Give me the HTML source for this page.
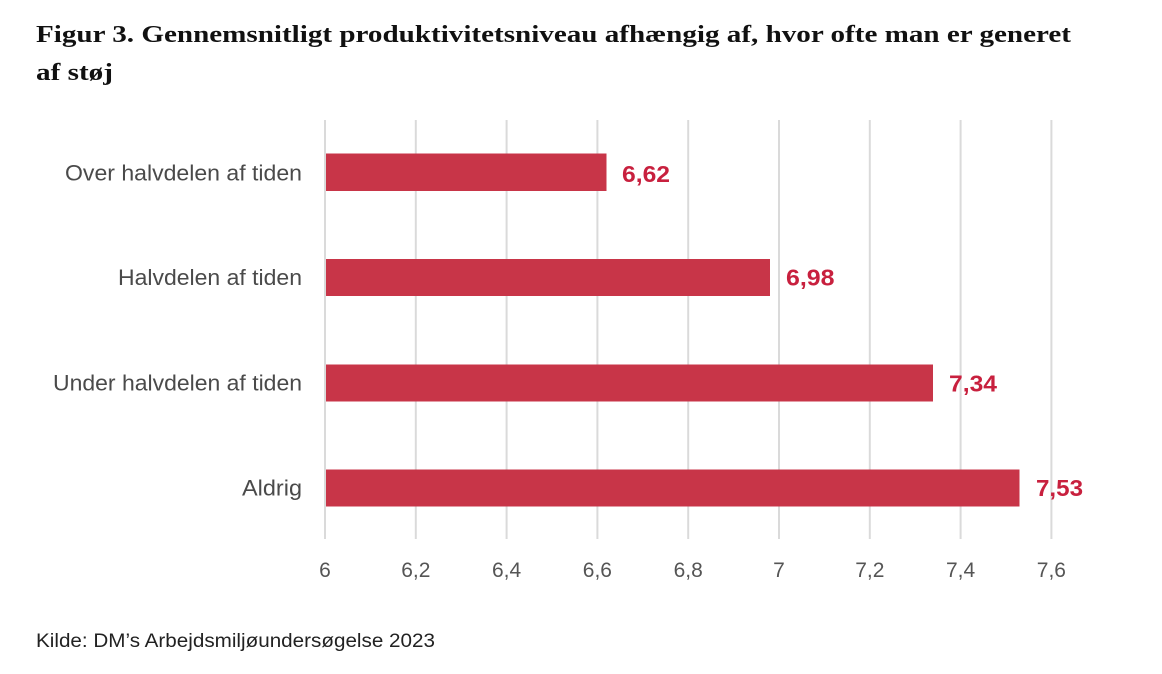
<!DOCTYPE html>
<html>
<head>
<meta charset="utf-8">
<style>
  html, body { margin: 0; padding: 0; background: #ffffff; }
  svg { display: block; }
</style>
</head>
<body>
<svg width="1162" height="674" viewBox="0 0 1162 674" xmlns="http://www.w3.org/2000/svg">
  <rect x="0" y="0" width="1162" height="674" fill="#ffffff"/>

  <!-- Title -->
  <text x="36" y="42" font-family="Liberation Serif, serif" font-weight="bold" font-size="24" fill="#111111" textLength="1035" lengthAdjust="spacingAndGlyphs">Figur 3. Gennemsnitligt produktivitetsniveau afhængig af, hvor ofte man er generet</text>
  <text x="36" y="80" font-family="Liberation Serif, serif" font-weight="bold" font-size="24" fill="#111111" textLength="77" lengthAdjust="spacingAndGlyphs">af støj</text>

  <!-- Gridlines -->
  <g stroke="#dadada" stroke-width="2">
    <line x1="325" y1="120" x2="325" y2="539"/>
    <line x1="415.8" y1="120" x2="415.8" y2="539"/>
    <line x1="506.6" y1="120" x2="506.6" y2="539"/>
    <line x1="597.4" y1="120" x2="597.4" y2="539"/>
    <line x1="688.2" y1="120" x2="688.2" y2="539"/>
    <line x1="779" y1="120" x2="779" y2="539"/>
    <line x1="869.8" y1="120" x2="869.8" y2="539"/>
    <line x1="960.6" y1="120" x2="960.6" y2="539"/>
    <line x1="1051.4" y1="120" x2="1051.4" y2="539"/>
  </g>

  <!-- Bars -->
  <g fill="#c83548">
    <rect x="326" y="153.5" width="280.5" height="37.5"/>
    <rect x="326" y="259" width="444" height="37"/>
    <rect x="326" y="364.5" width="607" height="37"/>
    <rect x="326" y="469.5" width="693.5" height="37"/>
  </g>

  <!-- Value labels -->
  <g font-family="Liberation Sans, sans-serif" font-weight="bold" font-size="23" fill="#c8203e">
    <text x="622" y="182" textLength="48" lengthAdjust="spacingAndGlyphs">6,62</text>
    <text x="786" y="285.5" textLength="48.5" lengthAdjust="spacingAndGlyphs">6,98</text>
    <text x="949" y="391.5" textLength="48" lengthAdjust="spacingAndGlyphs">7,34</text>
    <text x="1036" y="496" textLength="47" lengthAdjust="spacingAndGlyphs">7,53</text>
  </g>

  <!-- Category labels -->
  <g font-family="Liberation Sans, sans-serif" font-size="22.5" fill="#4a4a4a">
    <text x="65" y="180.5" textLength="237" lengthAdjust="spacingAndGlyphs">Over halvdelen af tiden</text>
    <text x="118" y="285" textLength="184" lengthAdjust="spacingAndGlyphs">Halvdelen af tiden</text>
    <text x="53" y="390.5" textLength="249" lengthAdjust="spacingAndGlyphs">Under halvdelen af tiden</text>
    <text x="242" y="495.5" textLength="60" lengthAdjust="spacingAndGlyphs">Aldrig</text>
  </g>

  <!-- Tick labels -->
  <g font-family="Liberation Sans, sans-serif" font-size="21" fill="#555555" text-anchor="middle">
    <text x="325" y="577">6</text>
    <text x="415.8" y="577">6,2</text>
    <text x="506.6" y="577">6,4</text>
    <text x="597.4" y="577">6,6</text>
    <text x="688.2" y="577">6,8</text>
    <text x="779" y="577">7</text>
    <text x="869.8" y="577">7,2</text>
    <text x="960.6" y="577">7,4</text>
    <text x="1051.4" y="577">7,6</text>
  </g>

  <!-- Source -->
  <text x="36" y="647" font-family="Liberation Sans, sans-serif" font-size="19.5" fill="#222222" textLength="399" lengthAdjust="spacingAndGlyphs">Kilde: DM’s Arbejdsmiljøundersøgelse 2023</text>
</svg>
</body>
</html>
